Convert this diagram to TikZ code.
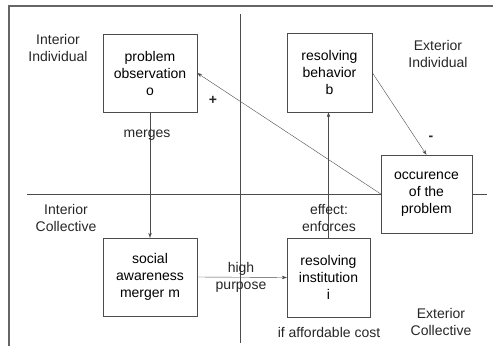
\documentclass[tikz,border=0pt]{standalone}
\usepackage{fontspec}
\setmainfont{Liberation Sans}
\usetikzlibrary{arrows.meta}

\begin{document}
\begin{tikzpicture}[x=1pt, y=-1pt,
  font=\fontsize{14}{17}\selectfont,
  box/.style={draw=black!70, align=center, inner sep=0pt},
  lbl/.style={align=center, text=black!85},
  link/.style={draw=black!70, -{Stealth[length=5pt,width=3.5pt]}}]
\useasboundingbox (0, 0) rectangle (493, 346);
% frame and axes
\draw[black!60, line width=1.5pt] (9, 346) -- (9, 6) -- (493, 6);
\draw[black!70] (240, 14) -- (240, 343);
\draw[black!70] (27, 194) -- (487, 194);
% quadrant labels
\node at (58, 48) (II) [lbl] {Interior\\Individual};
\node at (438, 54) (EI) [lbl] {Exterior\\Individual};
\node at (66, 218) (IC) [lbl] {Interior\\Collective};
\node at (441, 322) (EC) [lbl] {Exterior\\Collective};
% boxes
\node at (150, 73) (obs) [box, minimum width=94pt, minimum height=78pt] {problem\\observation\\o};
\node at (329.5, 72.5) (behav) [box, minimum width=85pt, minimum height=79pt] {resolving\\behavior\\b};
\node at (426.5, 194) (occ) [box, minimum width=91pt, minimum height=78pt, fill=white] {occurence\\of the\\problem};
\node at (150, 277) (merger) [box, minimum width=94pt, minimum height=78pt] {social\\awareness\\merger m};
\node at (328.5, 277.5) (inst) [box, minimum width=83pt, minimum height=79pt] {resolving\\institution\\i};
% connectors
\draw[link] (obs.south) -- (merger.north);
\draw[link] (merger.east) -- (inst.west);
\draw[link] (inst.north) -- (inst.north |- behav.south);
\draw[link] (behav.east) -- (occ.north);
\draw[link] (occ.west) -- (obs.east);
% connector labels
\node at (147, 135) (merges) [lbl] {merges};
\node at (241, 277) (purpose) [lbl] {high\\purpose};
\node at (329, 218) (effect) [lbl] {effect:\\enforces};
\node at (213, 100) (plus) [lbl] {\textbf{+}};
\node at (431, 138) (minus) [lbl] {\textbf{-}};
\node at (329, 332) (cost) [lbl] {if affordable cost};
\end{tikzpicture}
\end{document}
